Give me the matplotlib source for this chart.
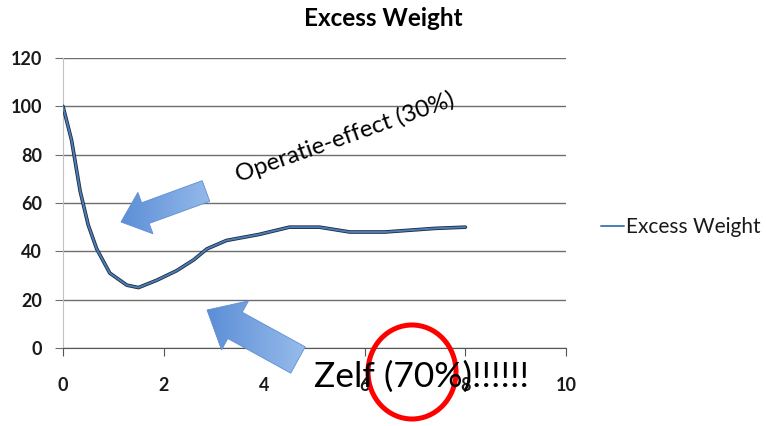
import numpy as np
import matplotlib
matplotlib.use("Agg")
import matplotlib.pyplot as plt
from matplotlib.patches import FancyArrow, Ellipse

plt.rcParams['font.family'] = ['Lato', 'DejaVu Sans']

# values
months = [0, 0.17, 0.34, 0.5, 0.67, 0.93, 1.27, 1.5, 1.86, 2.26, 2.6, 2.86,
          3.25, 3.9, 4.5, 5.1, 5.7, 6.4, 7.4, 8.0]
excess = [100, 86, 65, 51, 41, 31, 26, 25, 28, 32, 36.5, 41,
          44.5, 47, 50, 50, 48, 48, 49.5, 50]
xticks = [0, 2, 4, 6, 8, 10]
yticks = [0, 20, 40, 60, 80, 100, 120]

W, H = 766, 426
fig = plt.figure(figsize=(W / 100, H / 100), dpi=100)
ax = fig.add_axes([63 / W, 1 - 348 / H, (566 - 63) / W, (348 - 58) / H])

ax.plot(months, excess, color="#1f2a3a", lw=2.6, solid_capstyle="round",
        solid_joinstyle="round", zorder=3)
ax.plot(months, excess, color="#4a7ebb", lw=1.4, solid_capstyle="round",
        solid_joinstyle="round", zorder=4, label="Excess Weight")

ax.set_xlim(0, 10)
ax.set_ylim(0, 120)
ax.set_xticks(xticks)
ax.set_yticks(yticks)
ax.yaxis.grid(True, color="#6e6e6e", lw=1)
ax.set_axisbelow(True)
for s in ("top", "right"):
    ax.spines[s].set_visible(False)
ax.spines["left"].set_color("#c0c0c0")
ax.spines["bottom"].set_color("#555555")
ax.tick_params(axis="y", length=6, color="#6e6e6e", labelsize=13, pad=9)
ax.tick_params(axis="x", length=6, color="#555555", labelsize=13, pad=15)
for lab in ax.get_xticklabels() + ax.get_yticklabels():
    lab.set_fontweight("bold")
    lab.set_color("#1a1a1a")

fig.text(383 / W, 1 - 19 / H, "Excess Weight", ha="center", va="center",
         fontsize=17.5, fontweight="bold")
leg = fig.legend(loc="center left", bbox_to_anchor=(593 / W, 1 - 227 / H),
                 frameon=False, handlelength=1.1, handletextpad=0.1,
                 borderaxespad=0, fontsize=15)
for t in leg.get_texts():
    t.set_color("#1a1a1a")

# overlay in pixel coordinates for the shapes
ov = fig.add_axes([0, 0, 1, 1], zorder=10)
ov.set_xlim(0, W)
ov.set_ylim(0, H)
ov.axis("off")
ov.patch.set_alpha(0)

grad = np.linspace(0, 1, 64)[None, :]
cm = matplotlib.colors.LinearSegmentedColormap.from_list("b", ["#4a80d0", "#a4c6f0"])


def block_arrow(tail, tip, body, head, head_len):
    x0, y0 = tail[0], H - tail[1]
    x1, y1 = tip[0], H - tip[1]
    arr = FancyArrow(x0, y0, x1 - x0, y1 - y0, width=body, head_width=head,
                     head_length=head_len, length_includes_head=True,
                     facecolor="none", edgecolor="#5d8fd4", lw=0.6)
    ov.add_patch(arr)
    xs, ys = [x0, x1], [y0, y1]
    im = ov.imshow(grad, cmap=cm, aspect="auto",
                   extent=(min(xs) - 30, max(xs) + 30, min(ys) - 30, max(ys) + 30))
    im.set_clip_path(arr)


block_arrow((206, 191), (121, 222), 22, 44, 26)
block_arrow((298, 360), (207, 310), 30, 56, 32)
ov.set_xlim(0, W)
ov.set_ylim(0, H)

fig.text(236 / W, 1 - 176 / H, "Operatie-effect (30%)", rotation=19.5,
         ha="left", va="center", fontsize=17.3, rotation_mode="anchor")
fig.text(421 / W, 1 - 377 / H, "Zelf (70%)!!!!!!", ha="center", va="center",
         fontsize=25.5, zorder=11)

ov.add_patch(Ellipse((412, H - 372), 88, 94, facecolor="none",
                     edgecolor="#ff0000", lw=3.6, zorder=12))

fig.savefig("out.png", dpi=100)
